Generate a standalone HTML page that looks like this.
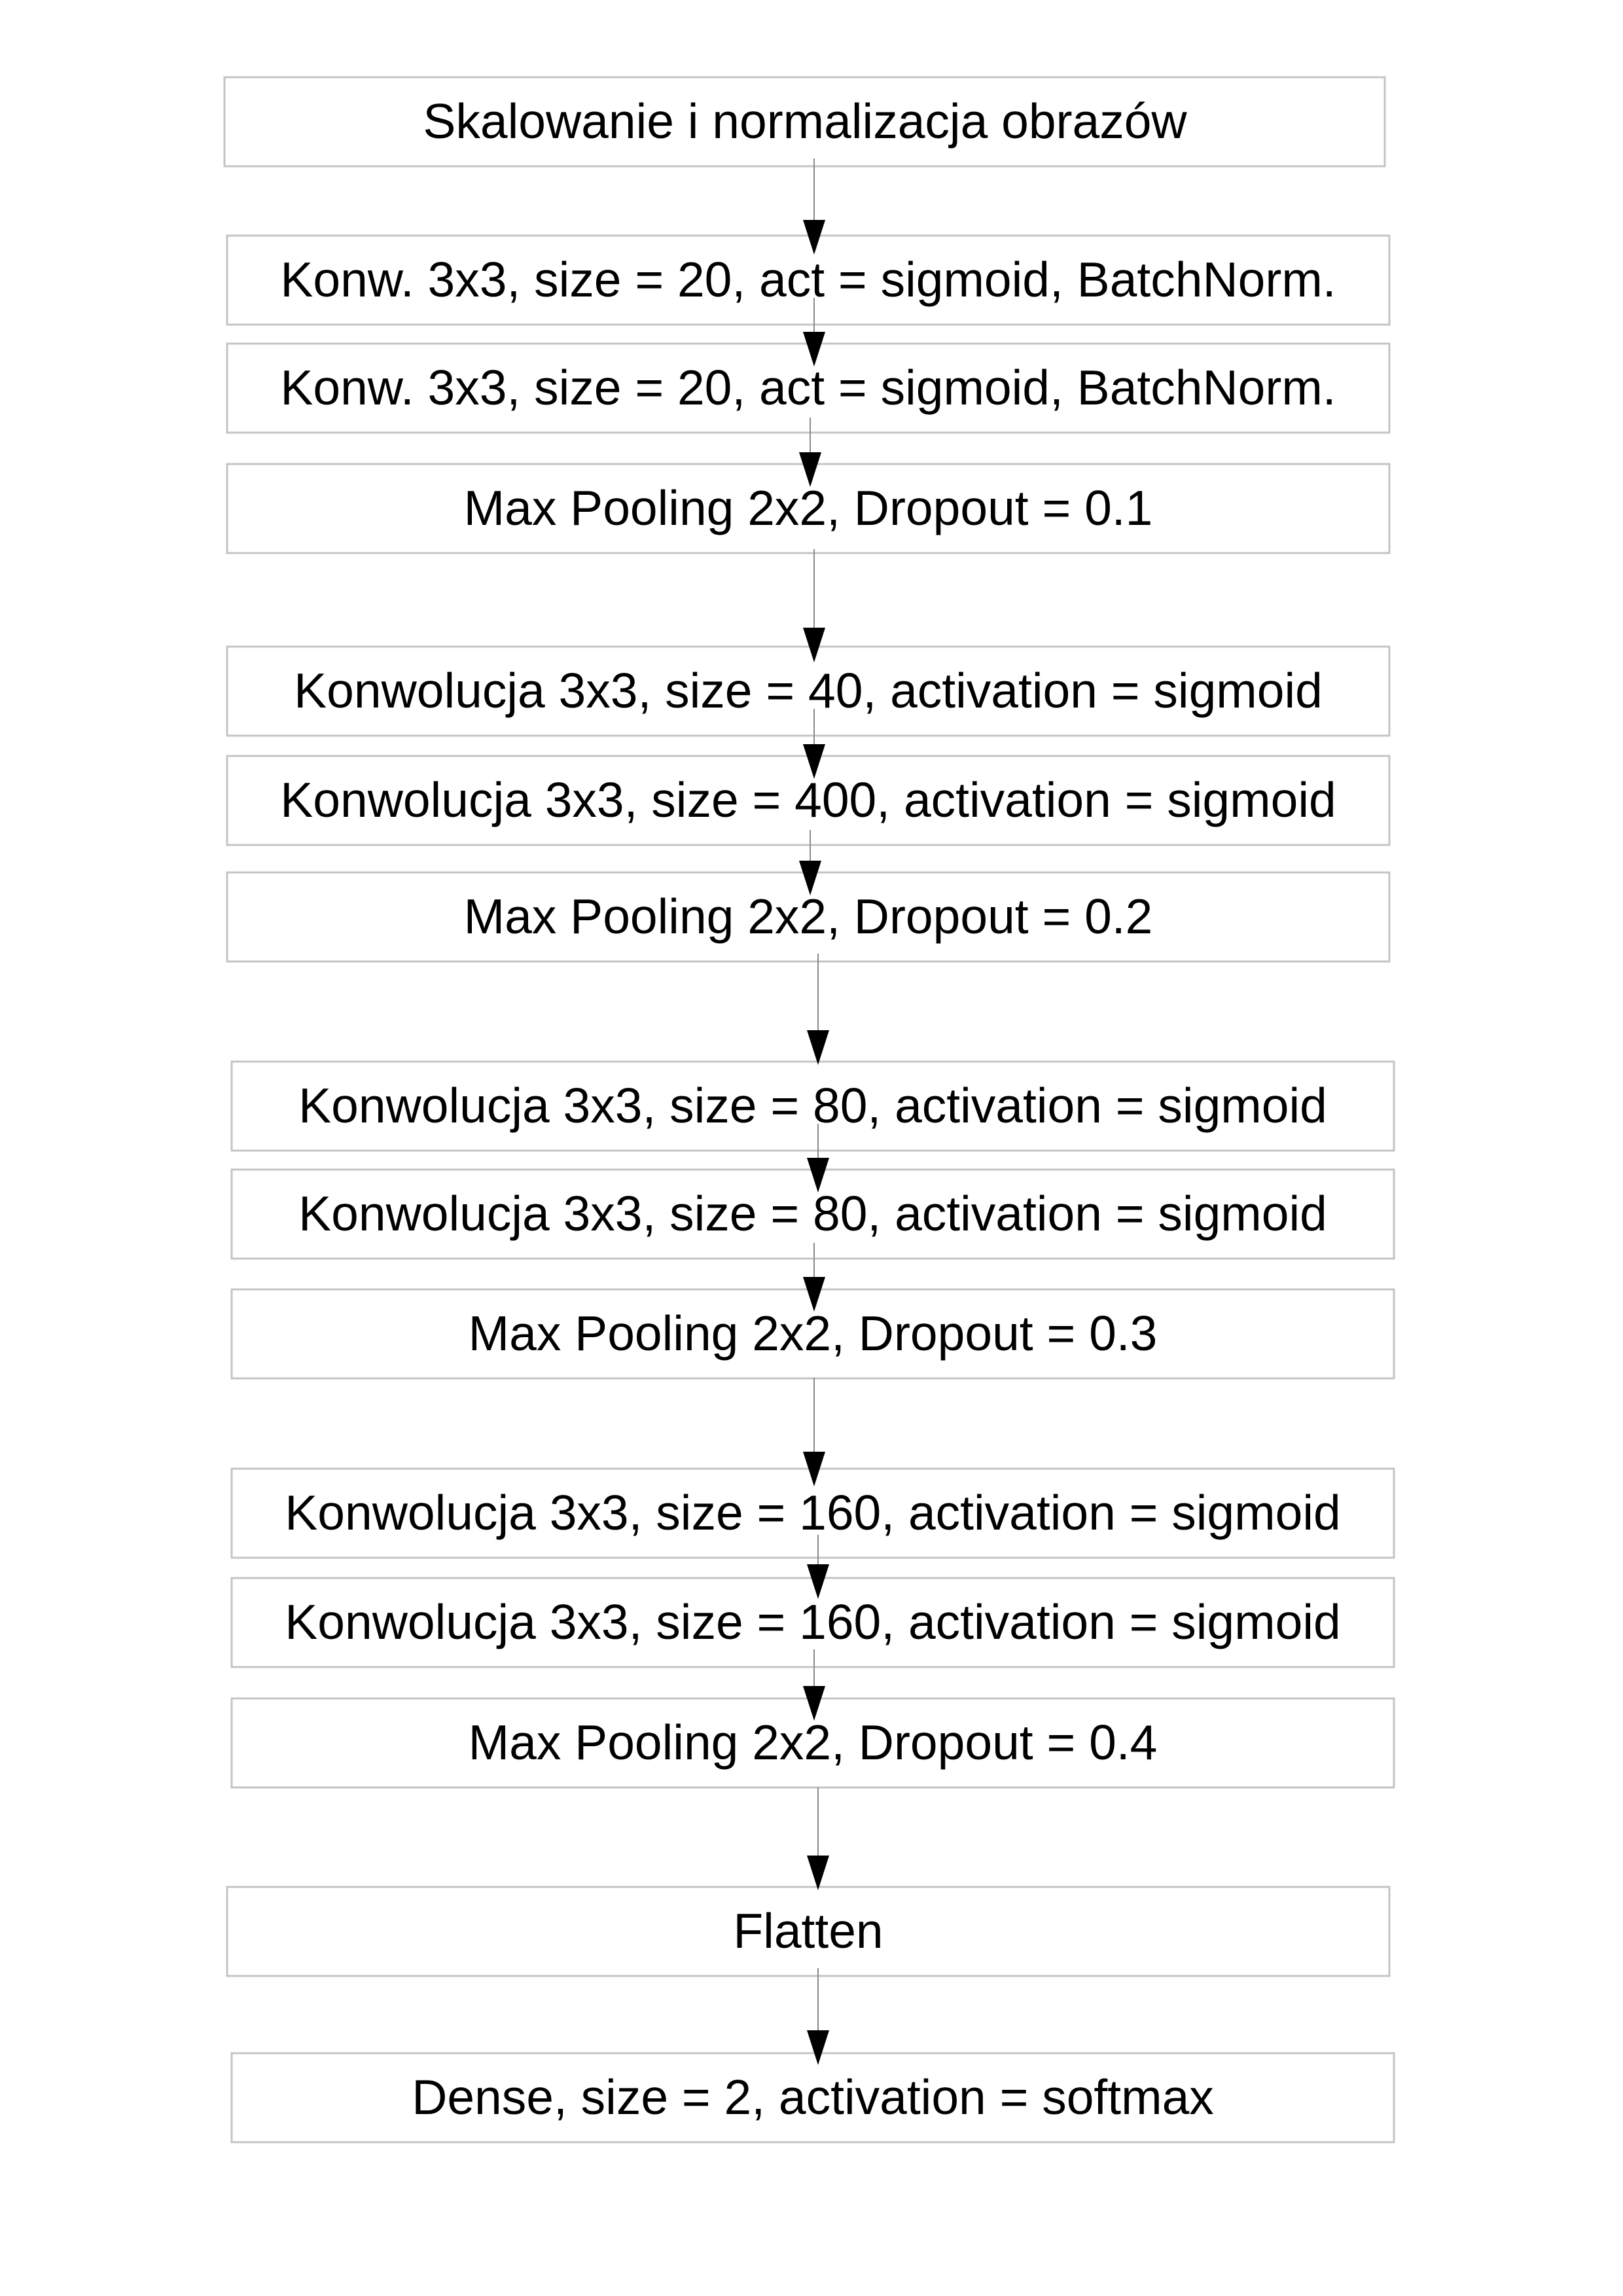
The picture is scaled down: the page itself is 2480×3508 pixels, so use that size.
<!DOCTYPE html>
<html><head><meta charset="utf-8"><style>
html,body{margin:0;padding:0;background:#fff}
svg{display:block}
text{font-family:"Liberation Sans",sans-serif;font-size:75px;fill:#000}
</style></head><body>
<svg width="2480" height="3508" viewBox="0 0 2480 3508" xmlns="http://www.w3.org/2000/svg">
<rect width="2480" height="3508" fill="#fff"/>
<g fill="#fff" stroke="#c4c4c4" stroke-width="3">
<rect x="343" y="118" width="1773" height="136"/>
<rect x="347" y="360" width="1776" height="136"/>
<rect x="347" y="525" width="1776" height="136"/>
<rect x="347" y="709" width="1776" height="136"/>
<rect x="347" y="988" width="1776" height="136"/>
<rect x="347" y="1155" width="1776" height="136"/>
<rect x="347" y="1333" width="1776" height="136"/>
<rect x="354" y="1622" width="1776" height="136"/>
<rect x="354" y="1787" width="1776" height="136"/>
<rect x="354" y="1970" width="1776" height="136"/>
<rect x="354" y="2244" width="1776" height="136"/>
<rect x="354" y="2411" width="1776" height="136"/>
<rect x="354" y="2595" width="1776" height="136"/>
<rect x="347" y="2883" width="1776" height="136"/>
<rect x="354" y="3137" width="1776" height="136"/>
</g>
<g text-anchor="middle">
<text x="1230" y="211">Skalowanie i normalizacja obrazów</text>
<text x="1235" y="453">Konw. 3x3, size = 20, act = sigmoid, BatchNorm.</text>
<text x="1235" y="618">Konw. 3x3, size = 20, act = sigmoid, BatchNorm.</text>
<text x="1235" y="802">Max Pooling 2x2, Dropout = 0.1</text>
<text x="1235" y="1081">Konwolucja 3x3, size = 40, activation = sigmoid</text>
<text x="1235" y="1248">Konwolucja 3x3, size = 400, activation = sigmoid</text>
<text x="1235" y="1426">Max Pooling 2x2, Dropout = 0.2</text>
<text x="1242" y="1715">Konwolucja 3x3, size = 80, activation = sigmoid</text>
<text x="1242" y="1880">Konwolucja 3x3, size = 80, activation = sigmoid</text>
<text x="1242" y="2063">Max Pooling 2x2, Dropout = 0.3</text>
<text x="1242" y="2337">Konwolucja 3x3, size = 160, activation = sigmoid</text>
<text x="1242" y="2504">Konwolucja 3x3, size = 160, activation = sigmoid</text>
<text x="1242" y="2688">Max Pooling 2x2, Dropout = 0.4</text>
<text x="1235" y="2976">Flatten</text>
<text x="1242" y="3230">Dense, size = 2, activation = softmax</text>
</g>
<g stroke="#8a8a8a" stroke-width="2">
<line x1="1244" y1="242" x2="1244" y2="340"/>
<line x1="1244" y1="455" x2="1244" y2="510"/>
<line x1="1238" y1="638" x2="1238" y2="694"/>
<line x1="1244" y1="839" x2="1244" y2="962"/>
<line x1="1244" y1="1083" x2="1244" y2="1140"/>
<line x1="1238" y1="1268" x2="1238" y2="1318"/>
<line x1="1250" y1="1457" x2="1250" y2="1577"/>
<line x1="1250" y1="1717" x2="1250" y2="1772"/>
<line x1="1244" y1="1899" x2="1244" y2="1954"/>
<line x1="1244" y1="2105" x2="1244" y2="2221"/>
<line x1="1250" y1="2345" x2="1250" y2="2393"/>
<line x1="1244" y1="2520" x2="1244" y2="2579"/>
<line x1="1250" y1="2731" x2="1250" y2="2838"/>
<line x1="1250" y1="3007" x2="1250" y2="3105"/>
</g>
<g fill="#000">
<polygon points="1227,336 1261,336 1244,389"/>
<polygon points="1227,507 1261,507 1244,560"/>
<polygon points="1221,691 1255,691 1238,744"/>
<polygon points="1227,959 1261,959 1244,1012"/>
<polygon points="1227,1137 1261,1137 1244,1190"/>
<polygon points="1221,1315 1255,1315 1238,1368"/>
<polygon points="1233,1574 1267,1574 1250,1627"/>
<polygon points="1233,1769 1267,1769 1250,1822"/>
<polygon points="1227,1951 1261,1951 1244,2004"/>
<polygon points="1227,2218 1261,2218 1244,2271"/>
<polygon points="1233,2390 1267,2390 1250,2443"/>
<polygon points="1227,2576 1261,2576 1244,2629"/>
<polygon points="1233,2835 1267,2835 1250,2888"/>
<polygon points="1233,3102 1267,3102 1250,3155"/>
</g>
</svg>
</body></html>
